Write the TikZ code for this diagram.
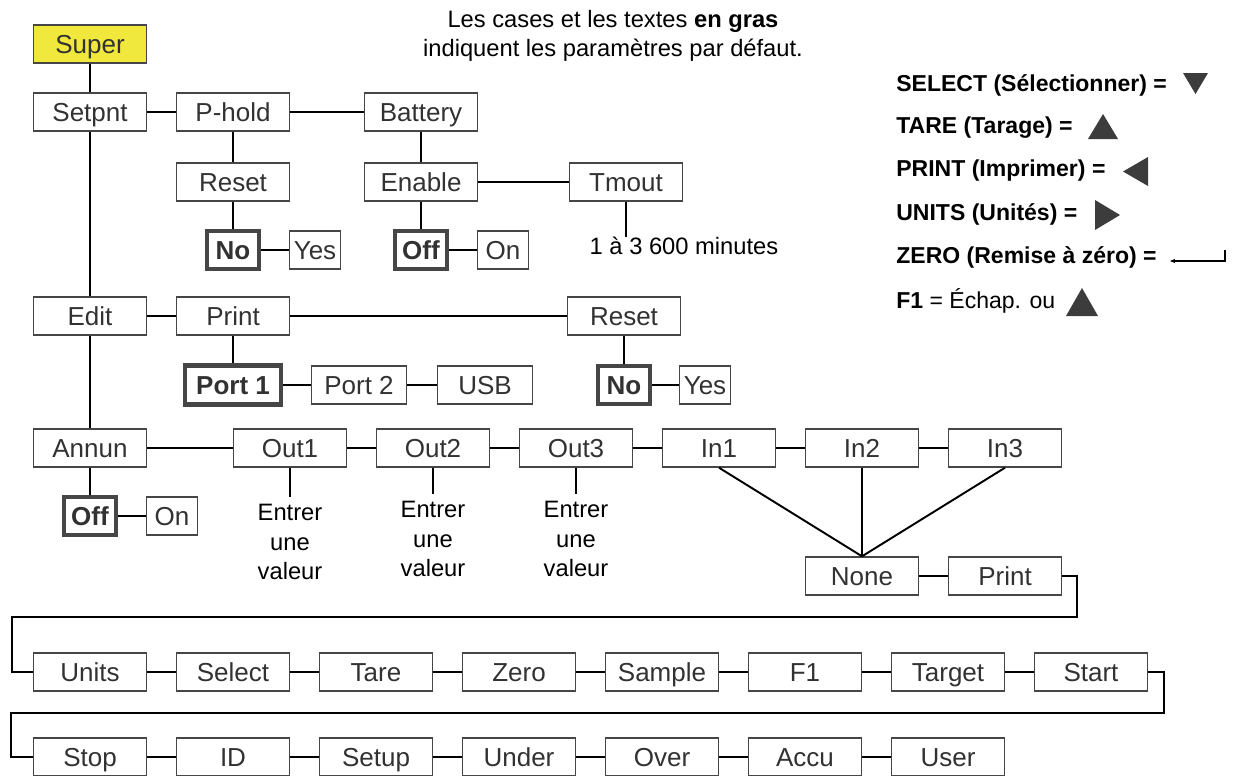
\documentclass[tikz,border=0pt]{standalone}
\usepackage{fontspec}
\setmainfont{Liberation Sans}
\usetikzlibrary{arrows.meta}
\definecolor{boxgray}{RGB}{70,70,70}
\definecolor{txtgray}{RGB}{50,50,50}
\definecolor{keygray}{RGB}{60,60,60}
\definecolor{superyellow}{RGB}{240,232,60}

\begin{document}
\begin{tikzpicture}[
  x=0.02cm, y=-0.02cm,
  box/.style={draw=boxgray, line width=0.8pt, fill=white, text=txtgray, minimum width=2.25cm, minimum height=0.76cm, inner sep=0pt, text height=12pt, text depth=1.4pt, font=\fontsize{14.8}{17}\selectfont},
  smallbox/.style={box, minimum width=1.03cm},
  defbox/.style={line width=2.3pt, font=\fontsize{14.8}{17}\selectfont\bfseries},
  remark/.style={font=\fontsize{13.5}{16.7}\selectfont, align=center, inner sep=0pt},
  keytext/.style={anchor=west, inner sep=0pt, font=\fontsize{13.1}{15}\selectfont},
  wire/.style={line width=1.1pt},
  tri/.style={fill=keygray}
]
  \useasboundingbox (0,0) rectangle (1233,775);
  \clip (0,0) rectangle (1233,775);

  % Titre
  \node[remark, font=\fontsize{13.5}{16.2}\selectfont] (titre) at (613,36) {Les cases et les textes \textbf{en gras}\\indiquent les paramètres par défaut.};

  % Super / Setpnt
  \node[box, fill=superyellow] (super) at (90,44) {Super};
  \node[box] (setpnt) at (90,112) {Setpnt};
  \node[box] (phold) at (233,112) {P-hold};
  \node[box] (battery) at (421,112) {Battery};
  \node[box] (reseta) at (233,182) {Reset};
  \node[box] (enable) at (421,182) {Enable};
  \node[box] (tmout) at (626,182) {Tmout};
  \node[smallbox, defbox] (noa) at (233,250) {No};
  \node[smallbox] (yesa) at (315,250) {Yes};
  \node[smallbox, defbox] (offa) at (421,250) {Off};
  \node[smallbox] (ona) at (503,250) {On};
  \node[remark] (minutes) at (684,246) {1 à 3 600 minutes};
  \draw[wire] (super) -- (setpnt); \draw[wire] (setpnt) -- (phold); \draw[wire] (phold) -- (battery);
  \draw[wire] (phold) -- (reseta); \draw[wire] (reseta) -- (noa); \draw[wire] (noa) -- (yesa);
  \draw[wire] (battery) -- (enable); \draw[wire] (enable) -- (offa); \draw[wire] (offa) -- (ona);
  \draw[wire] (enable) -- (tmout); \draw[wire] (tmout.south) -- (tmout.south |- minutes.north);

  % Edit
  \node[box] (edit) at (90,316) {Edit};
  \node[box] (printa) at (233,316) {Print};
  \node[box] (resetb) at (624,316) {Reset};
  \node[box, defbox, minimum width=1.92cm, minimum height=0.78cm] (port1) at (233,385) {Port 1};
  \node[box, minimum width=1.9cm] (port2) at (359,385) {Port 2};
  \node[box, minimum width=1.9cm] (usb) at (485,385) {USB};
  \node[smallbox, defbox] (nob) at (624,385) {No};
  \node[smallbox] (yesb) at (705,385) {Yes};
  \draw[wire] (setpnt) -- (edit); \draw[wire] (edit) -- (printa); \draw[wire] (printa) -- (resetb);
  \draw[wire] (printa) -- (port1); \draw[wire] (port1) -- (port2); \draw[wire] (port2) -- (usb);
  \draw[wire] (resetb) -- (nob); \draw[wire] (nob) -- (yesb);

  % Annun
  \node[box] (annun) at (90,448) {Annun};
  \node[box] (out1) at (290,448) {Out1};
  \node[box] (out2) at (433,448) {Out2};
  \node[box] (out3) at (576,448) {Out3};
  \node[box] (in1) at (719,448) {In1};
  \node[box] (in2) at (862,448) {In2};
  \node[box] (in3) at (1005,448) {In3};
  \node[smallbox, defbox] (offb) at (90,516) {Off};
  \node[smallbox] (onb) at (172,516) {On};
  \node[remark, inner sep=4pt, anchor=north] (val1) at (290,497) {Entrer\\une\\valeur};
  \node[remark, inner sep=4pt, anchor=north] (val2) at (433,494) {Entrer\\une\\valeur};
  \node[remark, inner sep=4pt, anchor=north] (val3) at (576,494) {Entrer\\une\\valeur};
  \node[box] (nonein) at (862,576) {None};
  \node[box] (printb) at (1005,576) {Print};
  \draw[wire] (edit) -- (annun); \draw[wire] (annun) -- (out1); \draw[wire] (out1) -- (out2);
  \draw[wire] (out2) -- (out3); \draw[wire] (out3) -- (in1); \draw[wire] (in1) -- (in2); \draw[wire] (in2) -- (in3);
  \draw[wire] (annun) -- (offb); \draw[wire] (offb) -- (onb);
  \draw[wire] (out1) -- (val1); \draw[wire] (out2) -- (val2); \draw[wire] (out3) -- (val3);
  \draw[wire] (in1.south) -- (nonein.north); \draw[wire] (in2.south) -- (nonein.north); \draw[wire] (in3.south) -- (nonein.north);
  \draw[wire] (nonein) -- (printb);

  % Units ... Start
  \node[box] (units) at (90,672) {Units};
  \node[box] (select) at (233,672) {Select};
  \node[box] (tare) at (376,672) {Tare};
  \node[box] (zero) at (519,672) {Zero};
  \node[box] (sample) at (662,672) {Sample};
  \node[box] (fone) at (805,672) {F1};
  \node[box] (target) at (948,672) {Target};
  \node[box] (start) at (1091,672) {Start};
  \draw[wire] (printb.east) -- ++(15,0) |- (12,617) |- (units.west);
  \draw[wire] (units) -- (select); \draw[wire] (select) -- (tare); \draw[wire] (tare) -- (zero); \draw[wire] (zero) -- (sample);
  \draw[wire] (sample) -- (fone); \draw[wire] (fone) -- (target); \draw[wire] (target) -- (start);

  % Stop ... User
  \node[box] (stop) at (90,757) {Stop};
  \node[box] (id) at (233,757) {ID};
  \node[box] (setup) at (376,757) {Setup};
  \node[box] (under) at (519,757) {Under};
  \node[box] (over) at (662,757) {Over};
  \node[box] (accu) at (805,757) {Accu};
  \node[box] (user) at (948,757) {User};
  \draw[wire] (start.east) -- ++(16,0) |- (11,713) |- (stop.west);
  \draw[wire] (stop) -- (id); \draw[wire] (id) -- (setup); \draw[wire] (setup) -- (under);
  \draw[wire] (under) -- (over); \draw[wire] (over) -- (accu); \draw[wire] (accu) -- (user);

  % Touches
  \node[keytext] (kselect) at (896,85) {\textbf{SELECT (Sélectionner) =}};
  \node[keytext] (ktare) at (896,128) {\textbf{TARE (Tarage) =}};
  \node[keytext] (kprint) at (896,171) {\textbf{PRINT (Imprimer) =}};
  \node[keytext] (kunits) at (896,214) {\textbf{UNITS (Unités) =}};
  \node[keytext] (kzero) at (896,257) {\textbf{ZERO (Remise à zéro) =}};
  \node[keytext] (kfone) at (896,301) {\textbf{F1} = Échap. ou};
  \fill[tri] (1183,73) -- (1208,73) -- (1195.5,94) -- cycle;
  \fill[tri] (1088,139) -- (1118,139) -- (1103,114) -- cycle;
  \fill[tri] (1148,157) -- (1148,186) -- (1123,171.5) -- cycle;
  \fill[tri] (1095,200) -- (1095,230) -- (1120,215) -- cycle;
  \draw[line width=0.6pt, {Stealth[length=3pt,width=2.5pt]}-] (1170,261) -- (1225,261) -- (1225,250);
  \fill[tri] (1066,316) -- (1098,316) -- (1082,288) -- cycle;
\end{tikzpicture}
\end{document}
